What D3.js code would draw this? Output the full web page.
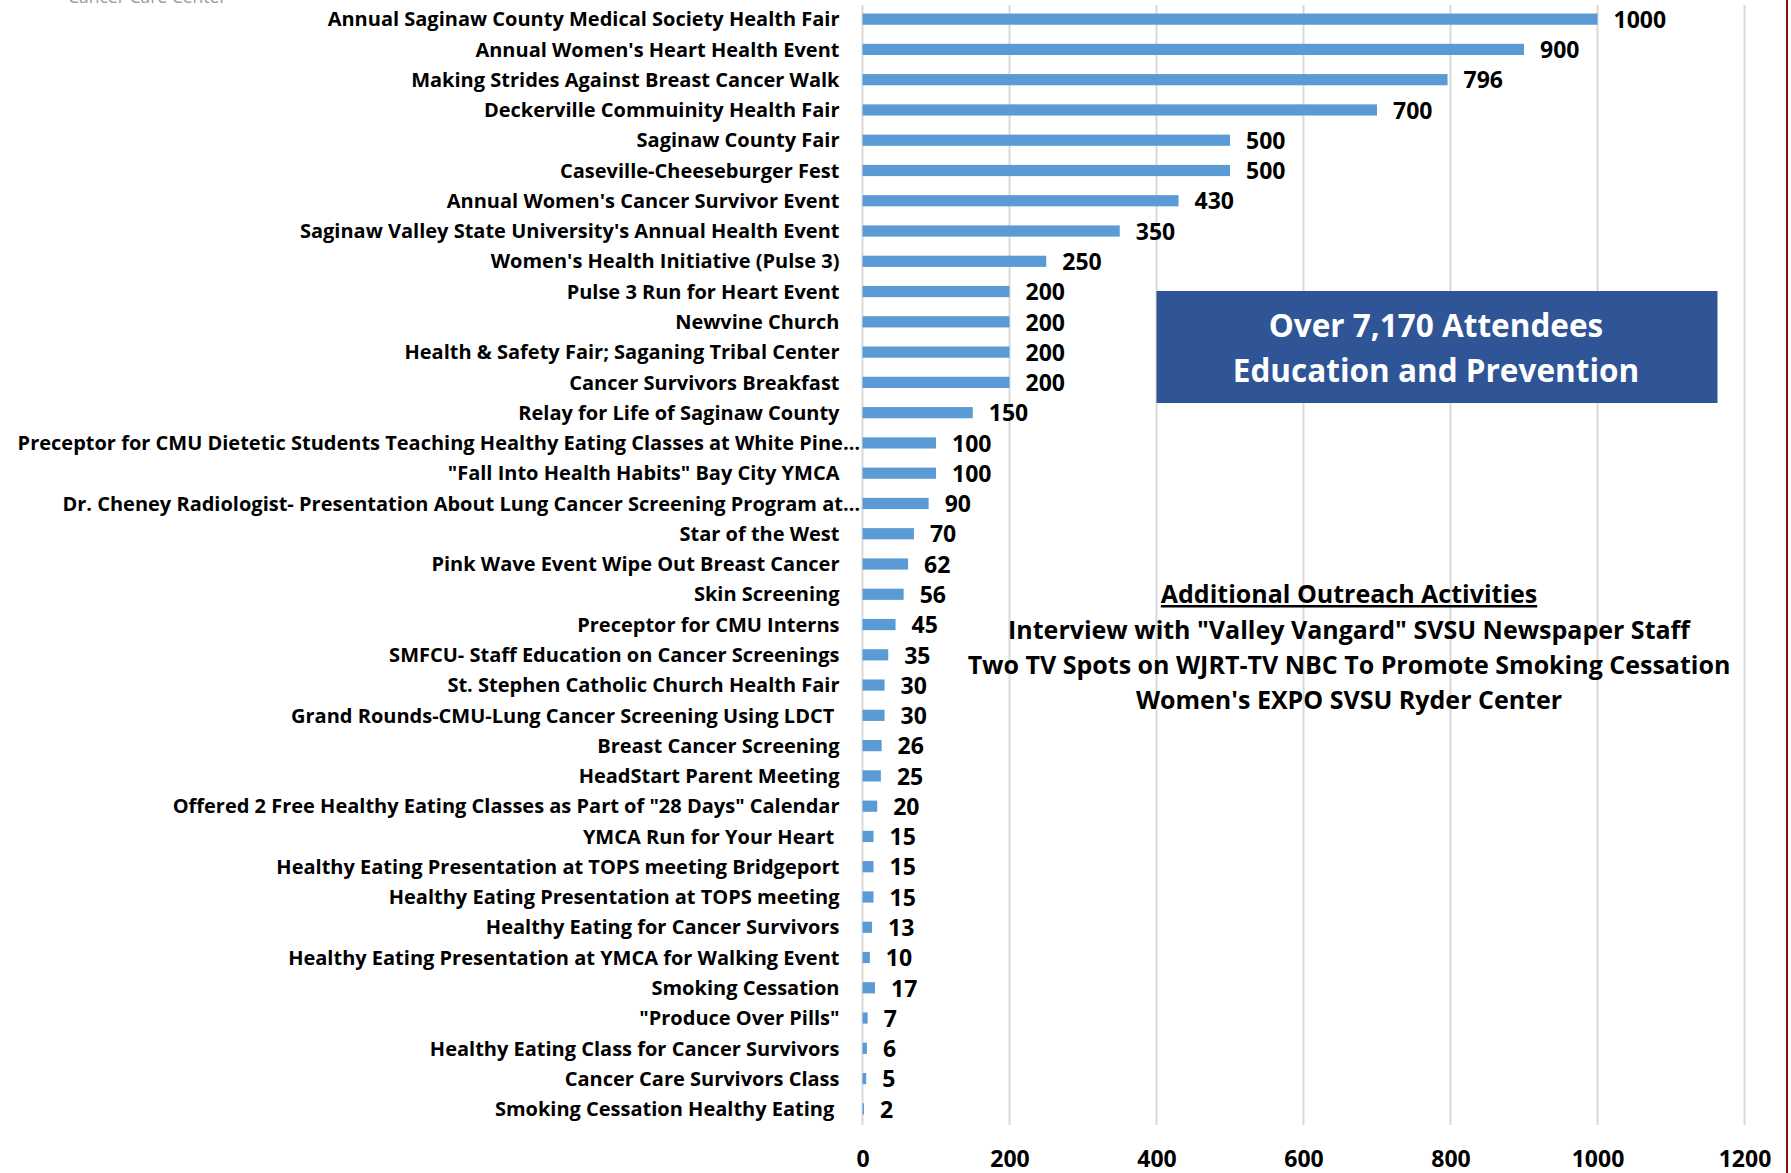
<!DOCTYPE html>
<html>
<head>
<meta charset="utf-8">
<script src="https://cdn.jsdelivr.net/npm/d3@7"></script>
<style>
  body { margin: 0; background: #fff; }
  text { font-family: "Open Sans", Lato, sans-serif; font-weight: bold; white-space: pre; }
</style>
</head>
<body>
<div id="chart"></div>
<script>
// event names, top to bottom
var events = [
  "Annual Saginaw County Medical Society Health Fair",
  "Annual Women's Heart Health Event",
  "Making Strides Against Breast Cancer Walk",
  "Deckerville Commuinity Health Fair",
  "Saginaw County Fair",
  "Caseville-Cheeseburger Fest",
  "Annual Women's Cancer Survivor Event",
  "Saginaw Valley State University's Annual Health Event",
  "Women's Health Initiative (Pulse 3)",
  "Pulse 3 Run for Heart Event",
  "Newvine Church",
  "Health & Safety Fair; Saganing Tribal Center",
  "Cancer Survivors Breakfast",
  "Relay for Life of Saginaw County",
  "Preceptor for CMU Dietetic Students Teaching Healthy Eating Classes at White Pine…",
  "\"Fall Into Health Habits\" Bay City YMCA",
  "Dr. Cheney Radiologist- Presentation About Lung Cancer Screening Program at…",
  "Star of the West",
  "Pink Wave Event Wipe Out Breast Cancer",
  "Skin Screening",
  "Preceptor for CMU Interns",
  "SMFCU- Staff Education on Cancer Screenings",
  "St. Stephen Catholic Church Health Fair",
  "Grand Rounds-CMU-Lung Cancer Screening Using LDCT ",
  "Breast Cancer Screening",
  "HeadStart Parent Meeting",
  "Offered 2 Free Healthy Eating Classes as Part of \"28 Days\" Calendar",
  "YMCA Run for Your Heart ",
  "Healthy Eating Presentation at TOPS meeting Bridgeport",
  "Healthy Eating Presentation at TOPS meeting",
  "Healthy Eating for Cancer Survivors",
  "Healthy Eating Presentation at YMCA for Walking Event",
  "Smoking Cessation",
  "\"Produce Over Pills\"",
  "Healthy Eating Class for Cancer Survivors",
  "Cancer Care Survivors Class",
  "Smoking Cessation Healthy Eating "
];

// attendees per event
var attendees = [1000, 900, 796, 700, 500, 500, 430, 350, 250, 200, 200, 200, 200, 150,
  100, 100, 90, 70, 62, 56, 45, 35, 30, 30, 26, 25, 20, 15, 15, 15, 13, 10, 17, 7, 6, 5, 2];

var xTicks = [0, 200, 400, 600, 800, 1000, 1200];

var boxLines = ["Over 7,170 Attendees", "Education and Prevention"];
var outreachTitle = "Additional Outreach Activities";
var outreachLines = [
  "Interview with \"Valley Vangard\" SVSU Newspaper Staff",
  "Two TV Spots on WJRT-TV NBC To Promote Smoking Cessation",
  "Women's EXPO SVSU Ryder Center"
];

var data = events.map(function(e, i) { return { name: e, value: attendees[i] }; });

var svgWidth = 1791;
var svgHeight = 1173;

var svg = d3.select("#chart")
  .append("svg")
  .attr("width", svgWidth)
  .attr("height", svgHeight);

// scales
var xScale = d3.scaleLinear()
  .domain([0, 1200])
  .range([862.5, 1744.5]);

var yScale = d3.scaleBand()
  .domain(events)
  .range([4, 1124])
  .paddingInner(0.63)
  .paddingOuter(0.315);

// faint clipped header text at the top
svg.append("text")
  .attr("x", 68)
  .attr("y", 3)
  .attr("font-size", 17.5)
  .attr("fill", "#999")
  .style("font-weight", "normal")
  .text("Cancer Care Center");

// vertical gridlines
svg.append("g")
  .selectAll("line")
  .data(xTicks)
  .enter()
  .append("line")
  .attr("x1", d => xScale(d))
  .attr("x2", d => xScale(d))
  .attr("y1", 5)
  .attr("y2", 1125)
  .attr("stroke", "#d9d9d9")
  .attr("stroke-width", 2);

// tick labels
var xAxis = d3.axisBottom(xScale).tickValues(xTicks).tickFormat(d3.format("d")).tickSize(0).tickPadding(0);
var axisG = svg.append("g")
  .attr("transform", "translate(0,1158.5)")
  .call(xAxis);
axisG.select(".domain").remove();
axisG.selectAll("text")
  .attr("dy", "0.36em")
  .attr("font-size", 23)
  .attr("fill", "#000")
  .style("font-family", null);

// bars
svg.append("g")
  .selectAll("rect")
  .data(data)
  .enter()
  .append("rect")
  .attr("x", xScale(0))
  .attr("y", d => yScale(d.name))
  .attr("width", d => xScale(d.value) - xScale(0))
  .attr("height", yScale.bandwidth())
  .attr("fill", "#5b9bd5");

// value labels
svg.append("g")
  .selectAll("text")
  .data(data)
  .enter()
  .append("text")
  .attr("x", d => xScale(d.value) + 16)
  .attr("y", d => yScale(d.name) + yScale.bandwidth() / 2)
  .attr("dy", "0.38em")
  .attr("font-size", 23)
  .attr("fill", "#000")
  .text(d => d.value);

// category labels (truncated ones sit a little further right)
svg.append("g")
  .selectAll("text")
  .data(data)
  .enter()
  .append("text")
  .attr("x", d => d.name.slice(-1) === "…" ? 860 : 839.5)
  .attr("y", d => yScale(d.name) + yScale.bandwidth() / 2)
  .attr("dy", "0.36em")
  .attr("text-anchor", "end")
  .attr("font-size", 20)
  .attr("fill", "#000")
  .text(d => d.name);

// blue summary box
svg.append("rect")
  .attr("x", xScale(400))
  .attr("y", 291)
  .attr("width", 561)
  .attr("height", 112)
  .attr("fill", "#2f5597");

svg.append("g")
  .selectAll("text")
  .data(boxLines)
  .enter()
  .append("text")
  .attr("x", 1436)
  .attr("y", (d, i) => 326 + i * 45)
  .attr("dy", "0.36em")
  .attr("text-anchor", "middle")
  .attr("font-size", 31.5)
  .attr("fill", "#fff")
  .text(d => d);

// additional outreach notes
svg.append("text")
  .attr("x", 1349)
  .attr("y", 594)
  .attr("dy", "0.36em")
  .attr("text-anchor", "middle")
  .attr("font-size", 25)
  .attr("fill", "#000")
  .style("text-decoration", "underline")
  .text(outreachTitle);

svg.append("g")
  .selectAll("text")
  .data(outreachLines)
  .enter()
  .append("text")
  .attr("x", 1349)
  .attr("y", (d, i) => 629.5 + i * 35.4)
  .attr("dy", "0.36em")
  .attr("text-anchor", "middle")
  .attr("font-size", 25)
  .attr("fill", "#000")
  .text(d => d);

// dark red frame edge on the right
svg.append("rect")
  .attr("x", 1786)
  .attr("y", 0)
  .attr("width", 2)
  .attr("height", svgHeight)
  .attr("fill", "#7f0d0d");
</script>
</body>
</html>
